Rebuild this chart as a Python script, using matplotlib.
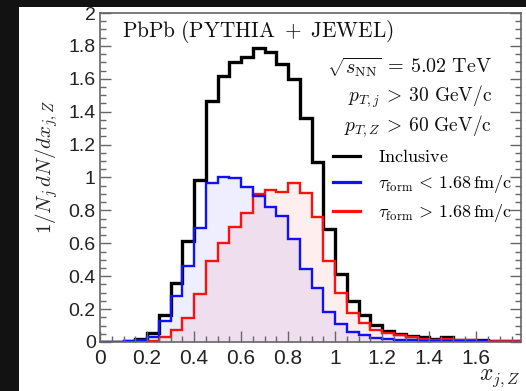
import numpy as np
import matplotlib.pyplot as plt
from matplotlib.patches import Rectangle
from matplotlib.ticker import MultipleLocator, FuncFormatter

plt.rcParams["mathtext.fontset"] = "cm"
plt.rcParams["font.family"] = "Liberation Sans"
plt.rcParams["xtick.labelsize"] = 15
plt.rcParams["ytick.labelsize"] = 14

# bin edges, width 0.05 in x_{j,Z}
bin_edges = np.linspace(0.0, 1.8, 37)

inclusive = [0.0, 0.0, 0.005, 0.02, 0.055, 0.165, 0.36, 0.615, 0.985, 1.465,
             1.615, 1.70, 1.73, 1.79, 1.76, 1.69, 1.60, 1.36, 1.095, 0.685,
             0.415, 0.25, 0.165, 0.105, 0.065, 0.048, 0.038, 0.028, 0.02, 0.03,
             0.015, 0.012, 0.01, 0.008, 0.006, 0.005]
tau_short = [0.0, 0.0, 0.004, 0.012, 0.028, 0.128, 0.28, 0.46, 0.69, 0.965,
             1.005, 0.999, 0.945, 0.885, 0.822, 0.766, 0.628, 0.442, 0.33, 0.185,
             0.108, 0.062, 0.04, 0.025, 0.016, 0.012, 0.01, 0.008, 0.006, 0.006,
             0.005, 0.004, 0.004, 0.003, 0.003, 0.003]
tau_long = [0.0, 0.0, 0.0, 0.004, 0.006, 0.028, 0.073, 0.144, 0.29, 0.49,
            0.60, 0.70, 0.782, 0.898, 0.924, 0.914, 0.965, 0.908, 0.758, 0.49,
            0.30, 0.178, 0.117, 0.074, 0.055, 0.04, 0.03, 0.02, 0.015, 0.02,
            0.012, 0.01, 0.008, 0.006, 0.005, 0.004]

labels = [r"$\mathrm{Inclusive}$",
          r"$\tau_{\rm form}\,<\,1.68\,\mathrm{fm/c}$",
          r"$\tau_{\rm form}\,>\,1.68\,\mathrm{fm/c}$"]

fig = plt.figure(figsize=(5.26, 3.91), dpi=100)
fig.patch.set_facecolor("#121212")
# white canvas like the ROOT pad
canvas = Rectangle((19 / 526, 0), 1, (391 - 7) / 391, transform=fig.transFigure,
                   facecolor="white", edgecolor="none", zorder=-10)
fig.add_artist(canvas)

ax = fig.add_axes([100 / 526, 49 / 391, 421 / 526, 329 / 391])
ax.set_facecolor("white")

# fills
ax.stairs(tau_short, bin_edges, fill=True, color="blue", alpha=0.065, lw=0)
ax.stairs(tau_long, bin_edges, fill=True, color="red", alpha=0.065, lw=0)

# outlines
ax.stairs(inclusive, bin_edges, color="black", lw=2.4, baseline=0)
ax.stairs(tau_long, bin_edges, color="#ff1010", lw=1.7, baseline=0)
ax.stairs(tau_short, bin_edges, color="#1010ff", lw=1.7, baseline=0)

ax.set_xlim(0, 1.79)
ax.set_ylim(0, 2)

grey = "#666666"
for s in ax.spines.values():
    s.set_color(grey)
    s.set_linewidth(1.2)

ax.xaxis.set_major_locator(MultipleLocator(0.2))
ax.xaxis.set_minor_locator(MultipleLocator(0.05))
ax.yaxis.set_major_locator(MultipleLocator(0.2))
ax.yaxis.set_minor_locator(MultipleLocator(0.05))
fmt = FuncFormatter(lambda v, p: "%g" % round(v, 2))
ax.xaxis.set_major_formatter(fmt)
ax.yaxis.set_major_formatter(fmt)

ax.tick_params(which="both", direction="in", colors=grey, labelcolor="#222222",
               left=True, right=True, bottom=True, top=False, width=1.0)
ax.tick_params(which="major", length=8)
ax.tick_params(which="minor", length=4.3)
ax.tick_params(axis="x", which="major", pad=5)
ax.tick_params(axis="y", which="major", pad=3)

ax.set_ylabel(r"$1/N_j\, dN/dx_{j,Z}$", fontsize=15, color="#222222")
ax.yaxis.set_label_coords(-0.095, 0.532)
ax.set_xlabel(r"$x_{j,Z}$", fontsize=17, color="#222222")
ax.xaxis.set_label_coords(0.95, -0.075)

ax.text(22 / 421, 0.945, r"$\mathrm{PbPb\ (PYTHIA\ +\ JEWEL)}$", transform=ax.transAxes,
        fontsize=15.3, ha="left", va="center", color="#111111")
ax.text(392 / 421, (342 - 68) / 329, r"$\sqrt{s_{\rm NN}}\:=\:5.02\ \mathrm{TeV}$",
        transform=ax.transAxes, fontsize=14.5, ha="right", va="center", color="#111111")
ax.text(392 / 421, (342 - 97) / 329, r"$p_{T,j}\:>\:30\ \mathrm{GeV/c}$",
        transform=ax.transAxes, fontsize=14, ha="right", va="center", color="#111111")
ax.text(392 / 421, (342 - 126) / 329, r"$p_{T,Z}\:>\:60\ \mathrm{GeV/c}$",
        transform=ax.transAxes, fontsize=14, ha="right", va="center", color="#111111")

handles = [plt.Line2D([], [], color="black", lw=2.3),
           plt.Line2D([], [], color="#1010ff", lw=2.3),
           plt.Line2D([], [], color="#ff1010", lw=2.3)]
ax.legend(handles, labels, loc="upper left",
          bbox_to_anchor=((333 - 100) / 421, (342 - 149) / 329),
          frameon=False, fontsize=13, handlelength=1.5,
          handletextpad=1.0, labelspacing=0.4, borderpad=0,
          borderaxespad=0)

fig.savefig("out.png", dpi=100, facecolor=fig.get_facecolor())
